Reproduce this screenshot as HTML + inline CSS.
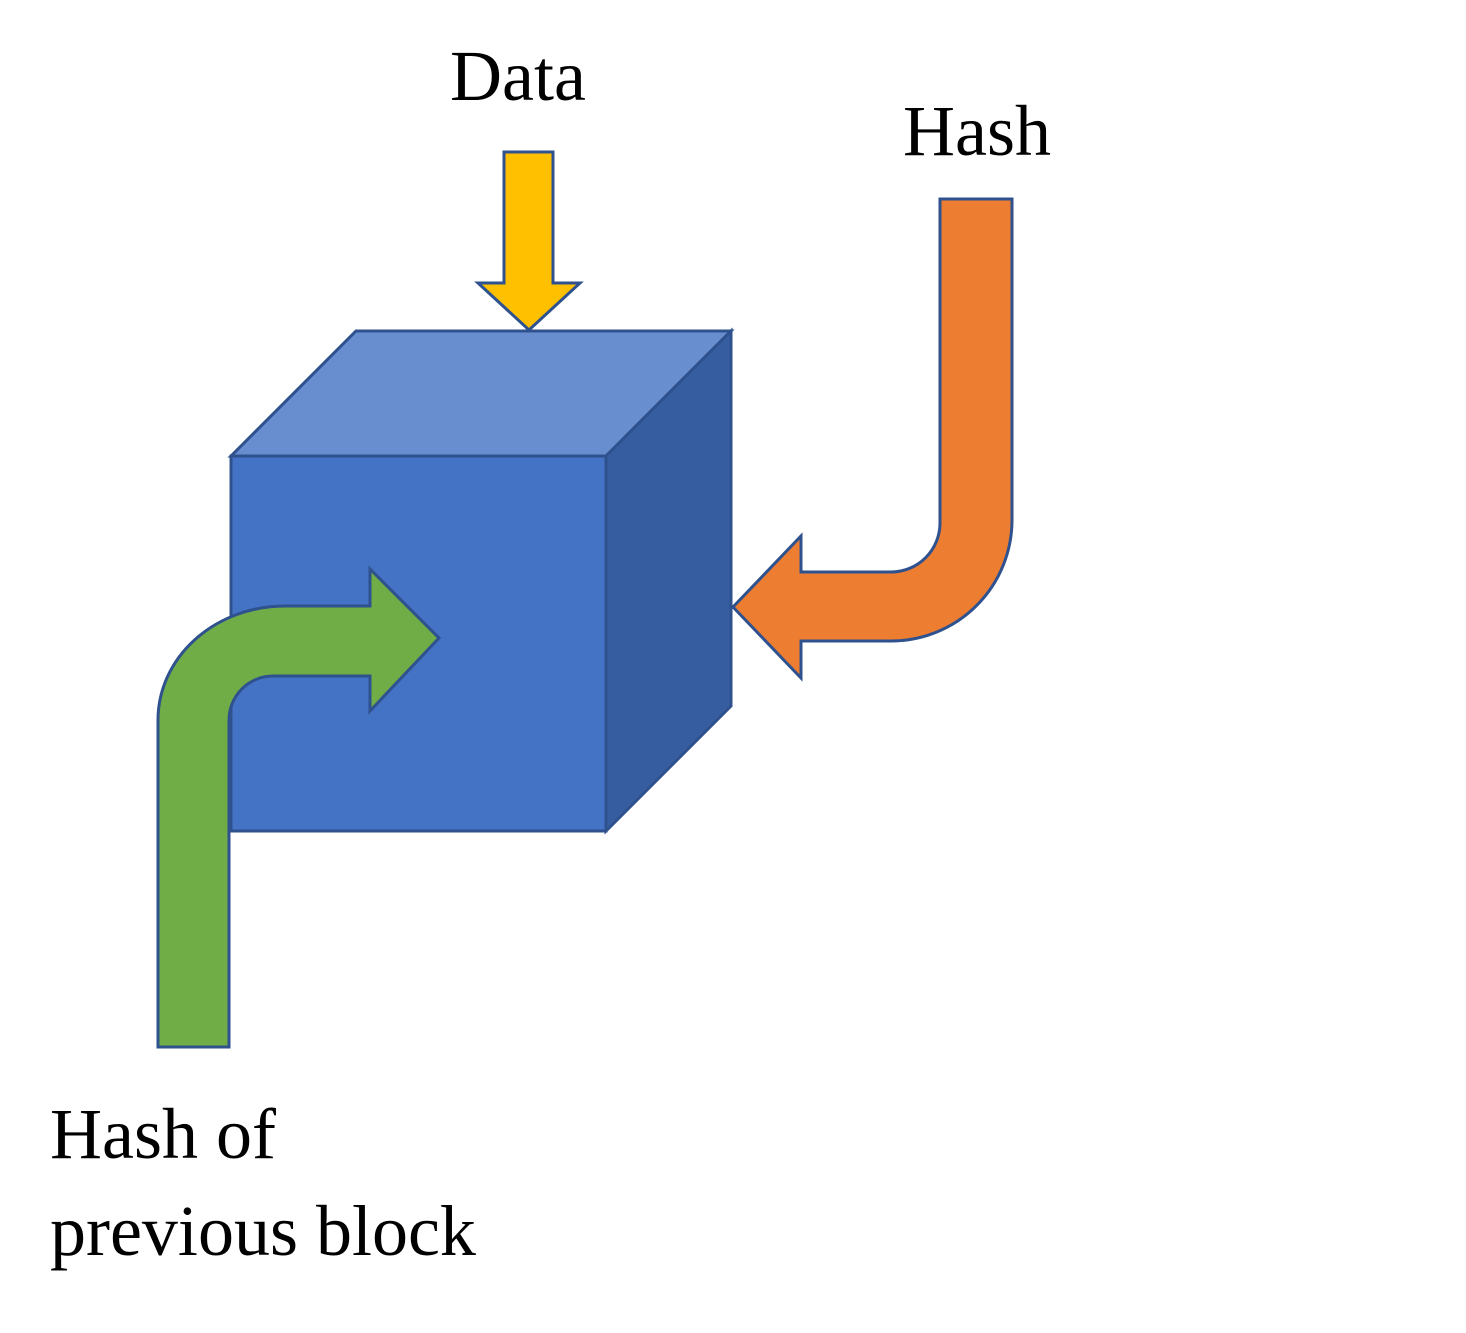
<!DOCTYPE html>
<html><head><meta charset="utf-8"><style>
html,body{margin:0;padding:0;background:#fff;}
svg{display:block;}
text{font-family:"Liberation Serif",serif;fill:#000;}
</style></head><body>
<svg width="1466" height="1333" viewBox="0 0 1466 1333" xmlns="http://www.w3.org/2000/svg">
<g stroke="#2f528f" stroke-width="3" stroke-linejoin="miter">
  <!-- cube -->
  <polygon points="231,456 356,331 731,331 606,456" fill="#698ed0"/>
  <polygon points="606,456 731,331 731,706 606,831" fill="#365d9f"/>
  <rect x="231" y="456" width="375" height="375" fill="#4472c4"/>
  <!-- yellow arrow -->
  <polygon points="504,152 553,152 553,283 580,283 529,330 478,283 504,283" fill="#ffc000"/>
  <!-- orange arrow -->
  <path d="M940,199 L1012,199 L1012,520 A121,121 0 0 1 891,641 L801,641 L801,678 L733,607 L801,536 L801,572 L891,572 A49,49 0 0 0 940,523 Z" fill="#ed7d31"/>
  <!-- green arrow -->
  <path d="M158,1047 L229,1047 L229,720 A44,44 0 0 1 273,676 L370,676 L370,711 L439,638 L370,569 L370,606 L285,606 A127,114 0 0 0 158,720 Z" fill="#70ad47"/>
</g>
<text x="450" y="100" font-size="72">Data</text>
<text x="903" y="155" font-size="72">Hash</text>
<text x="50" y="1158" font-size="72">Hash of</text>
<text x="50" y="1255" font-size="72">previous block</text>
</svg>
</body></html>
